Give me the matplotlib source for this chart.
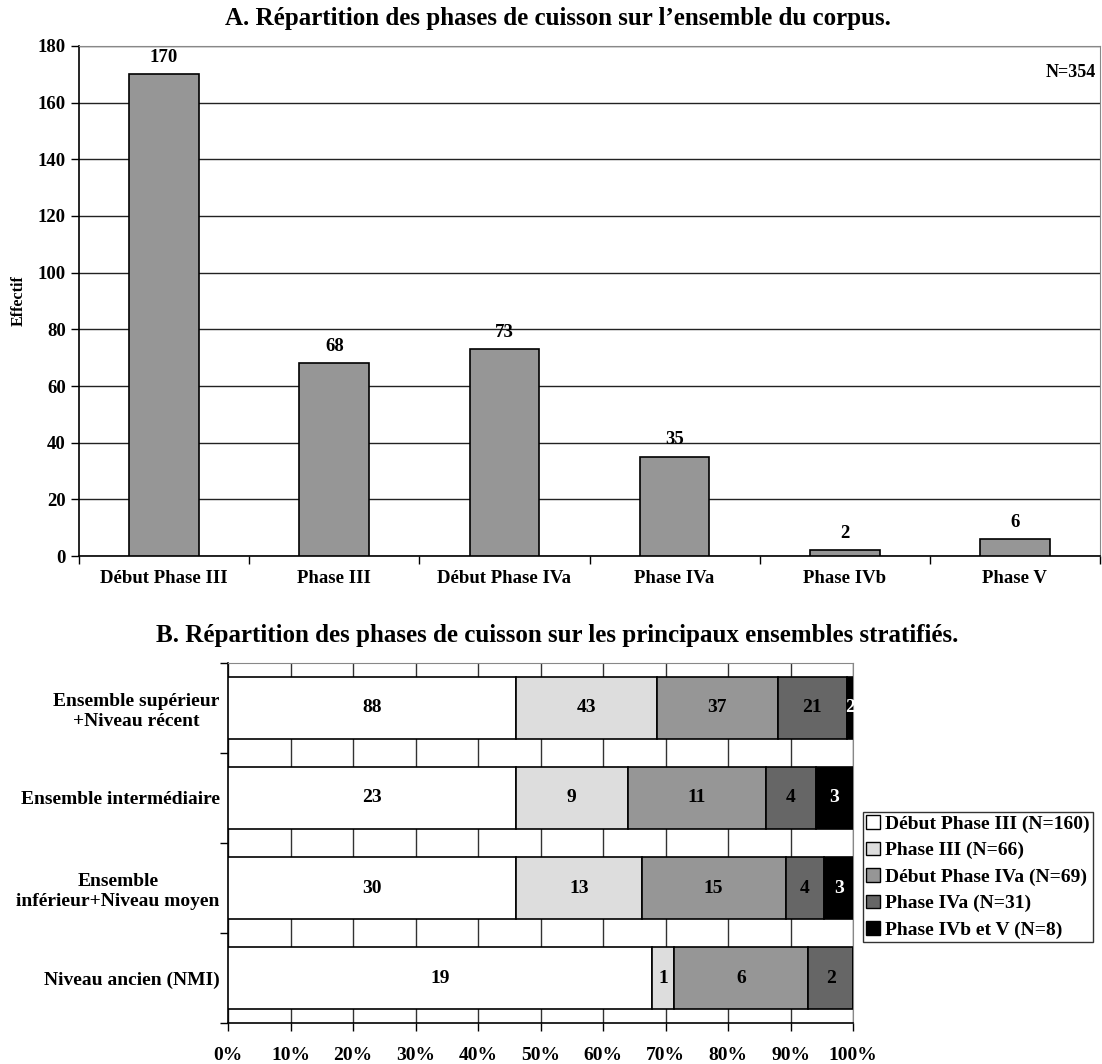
import numpy as np
import matplotlib.pyplot as plt
from matplotlib.patches import Patch

plt.rcParams['font.family'] = 'Liberation Serif'
plt.rcParams['font.weight'] = 'bold'

# A. corpus
phases = ['Début Phase III', 'Phase III', 'Début Phase IVa', 'Phase IVa', 'Phase IVb', 'Phase V']
effectifs = [170, 68, 73, 35, 2, 6]

# B. ensembles stratifiés
ensembles = ['Ensemble supérieur\n+Niveau récent', 'Ensemble intermédiaire',
             'Ensemble\ninférieur+Niveau moyen', 'Niveau ancien (NMI)']
series_labels = ['Début Phase III (N=160)', 'Phase III (N=66)', 'Début Phase IVa (N=69)',
                 'Phase IVa (N=31)', 'Phase IVb et V (N=8)']
debut_III = [88, 23, 30, 19]
phase_III = [43, 9, 13, 1]
debut_IVa = [37, 11, 15, 6]
phase_IVa = [21, 4, 4, 2]
phase_IVb_V = [2, 3, 3, 0]

colors = ['#ffffff', '#dddddd', '#969696', '#666666', '#000000']
text_colors = ['black', 'black', 'black', 'black', 'white']

fig = plt.figure(figsize=(11.02, 10.64), dpi=100)

# ---- chart A
ax1 = fig.add_axes([0.0717, 0.4774, 0.9265, 0.4794])
x = np.arange(len(phases))
ax1.bar(x, effectifs, width=0.41, color='#969696', edgecolor='black', linewidth=1.2, zorder=3)
for xi, v in zip(x, effectifs):
    ax1.text(xi, v + 3, str(v), ha='center', va='bottom', fontsize=13.5, fontweight='bold')
ax1.set_xlim(-0.5, len(phases) - 0.5)
ax1.set_ylim(0, 180)
ax1.set_yticks(range(0, 181, 20))
ax1.set_xticks(x)
ax1.set_xticklabels(phases, fontsize=13.5)
ax1.set_xticks(np.arange(-0.5, len(phases)), minor=True)
ax1.tick_params(axis='x', which='major', length=0, pad=10)
ax1.tick_params(axis='x', which='minor', length=6, direction='out', width=1)
ax1.tick_params(axis='y', labelsize=13.5, length=6, direction='out', width=1)
ax1.yaxis.grid(True, color='#222222', linewidth=1, zorder=0)
ax1.set_axisbelow(True)
for s in ['top', 'right']:
    ax1.spines[s].set_color('#888888')
for s in ['left', 'bottom']:
    ax1.spines[s].set_color('black')
    ax1.spines[s].set_linewidth(1.2)
ax1.set_ylabel('Effectif', fontsize=11.5, fontweight='bold', labelpad=8)
ax1.text(0.996, 0.965, 'N=354', transform=ax1.transAxes, ha='right', va='top', fontsize=13)
fig.text(0.506, 0.983, 'A. Répartition des phases de cuisson sur l\u2019ensemble du corpus.',
         ha='center', va='center', fontsize=18, fontweight='bold')

# ---- chart B
ax2 = fig.add_axes([0.2069, 0.0385, 0.5672, 0.3384])
data = np.array([debut_III, phase_III, debut_IVa, phase_IVa, phase_IVb_V], dtype=float)
totals = data.sum(axis=0)
pct = data / totals
y = np.arange(len(ensembles))
left = np.zeros(len(ensembles))
for i in range(len(series_labels)):
    ax2.barh(y, pct[i], left=left, height=0.68, color=colors[i], edgecolor='black',
             linewidth=1.2, zorder=3)
    for j in range(len(ensembles)):
        if data[i, j] > 0:
            ax2.text(left[j] + pct[i, j] / 2, y[j], str(int(data[i, j])), ha='center',
                     va='center', fontsize=14, fontweight='bold', color=text_colors[i], zorder=4)
    left += pct[i]
ax2.set_xlim(0, 1)
ax2.set_ylim(len(ensembles) - 0.5, -0.5)
ax2.set_xticks(np.arange(0, 1.01, 0.1))
ax2.set_xticklabels([f'{int(round(t * 100))}%' for t in np.arange(0, 1.01, 0.1)], fontsize=14)
ax2.set_yticks(y)
ax2.set_yticklabels(ensembles, fontsize=14, multialignment='center')
ax2.set_yticks(np.arange(-0.5, len(ensembles)), minor=True)
ax2.tick_params(axis='y', which='major', length=0, pad=6)
ax2.tick_params(axis='y', which='minor', length=6, direction='out', width=1)
ax2.tick_params(axis='x', length=6, direction='out', width=1, pad=11)
ax2.xaxis.grid(True, color='#333333', linewidth=1, zorder=0)
ax2.set_axisbelow(True)
for s in ['top', 'right']:
    ax2.spines[s].set_color('#888888')
for s in ['left', 'bottom']:
    ax2.spines[s].set_color('black')
    ax2.spines[s].set_linewidth(1.2)
fig.text(0.506, 0.403, 'B. Répartition des phases de cuisson sur les principaux ensembles stratifiés.',
         ha='center', va='center', fontsize=18, fontweight='bold')

handles = [Patch(facecolor=c, edgecolor='black', linewidth=1) for c in colors]
leg = fig.legend(handles, series_labels, loc='center left', bbox_to_anchor=(863 / 1102, 1 - 877 / 1064),
                 fontsize=14, frameon=True, fancybox=False, edgecolor='black', borderpad=0.15,
                 handlelength=0.7, handleheight=0.7, handletextpad=0.3, labelspacing=0.45,
                 borderaxespad=0)
leg.get_frame().set_linewidth(1)

fig.savefig('out.png', dpi=100)
